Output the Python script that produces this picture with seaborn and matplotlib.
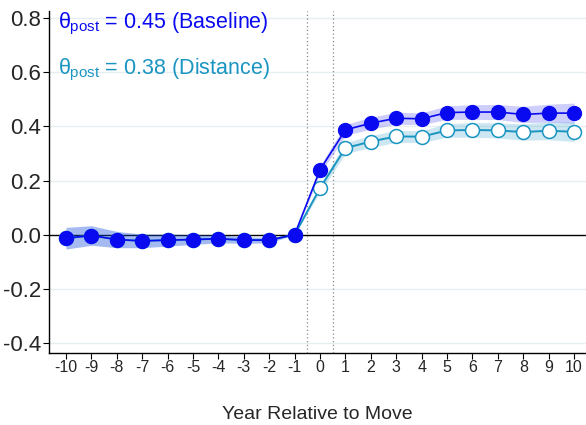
import numpy as np
import pandas as pd
import matplotlib
matplotlib.use("Agg")
import matplotlib.pyplot as plt
import seaborn as sns

years = list(range(-10, 11))
baseline = [-0.013, -0.003, -0.018, -0.023, -0.020, -0.018, -0.015, -0.020, -0.020, 0.000,
            0.240, 0.387, 0.412, 0.430, 0.428, 0.451, 0.453, 0.453, 0.444, 0.449, 0.449]
baseline_ci = [0.040, 0.036, 0.030, 0.025, 0.022, 0.018, 0.015, 0.012, 0.010, 0.000,
               0.015, 0.020, 0.022, 0.022, 0.022, 0.025, 0.027, 0.028, 0.030, 0.033, 0.037]
distance = [-0.013, -0.003, -0.018, -0.023, -0.020, -0.018, -0.015, -0.020, -0.020, 0.000,
            0.172, 0.320, 0.344, 0.363, 0.362, 0.385, 0.387, 0.385, 0.379, 0.384, 0.380]
distance_ci = [0.040, 0.036, 0.030, 0.025, 0.022, 0.018, 0.015, 0.012, 0.010, 0.000,
               0.015, 0.020, 0.022, 0.022, 0.022, 0.025, 0.027, 0.028, 0.030, 0.033, 0.036]
yticks = [-0.4, -0.2, 0.0, 0.2, 0.4, 0.6, 0.8]
label_base = r"$\theta_{\mathrm{post}}$ = 0.45 (Baseline)"
label_dist = r"$\theta_{\mathrm{post}}$ = 0.38 (Distance)"
xlabel = "Year Relative to Move"

sns.set_theme(style="white")
plt.rcParams["font.family"] = ["Liberation Sans", "DejaVu Sans"]
plt.rcParams["mathtext.fontset"] = "custom"
plt.rcParams["mathtext.rm"] = "Liberation Sans"
plt.rcParams["mathtext.it"] = "Liberation Sans"
plt.rcParams["mathtext.bf"] = "Liberation Sans:bold"

BLUE = "#0a0af0"
CYAN = "#1a95c2"

df = pd.DataFrame({"year": years, "baseline": baseline, "distance": distance,
                   "bci": baseline_ci, "dci": distance_ci})

fig = plt.figure(figsize=(5.86, 4.25), dpi=100)
ax = fig.add_axes([0.0836, 0.1694, 1 - 0.0836, 0.974 - 0.1694])

for y in yticks:
    if y != 0:
        ax.axhline(y, color="#e6eef0", lw=1.0, zorder=0)
ax.axhline(0, color="black", lw=1.0, zorder=1)
ax.axvline(-0.5, color="#888888", lw=0.9, ls=(0, (1, 2)), zorder=1)
ax.axvline(0.5, color="#888888", lw=0.9, ls=(0, (1, 2)), zorder=1)

ax.fill_between(df["year"], df["distance"] - df["dci"], df["distance"] + df["dci"],
                color=CYAN, alpha=0.22, lw=0, zorder=2)
ax.fill_between(df["year"], df["baseline"] - df["bci"], df["baseline"] + df["bci"],
                color=BLUE, alpha=0.2, lw=0, zorder=2)

sns.lineplot(data=df, x="year", y="distance", ax=ax, color=CYAN, lw=1.4,
             marker="o", markersize=10, markerfacecolor="white",
             markeredgecolor=CYAN, markeredgewidth=1.1, zorder=3)
sns.lineplot(data=df, x="year", y="baseline", ax=ax, color=BLUE, lw=1.2, alpha=1.0,
             marker="o", markersize=10, markerfacecolor=BLUE,
             markeredgecolor=BLUE, markeredgewidth=1.0, zorder=4)

ax.set_xlim(-10.67, 10.47)
ax.set_ylim(-0.437, 0.826)
ax.set_xticks(years)
ax.set_xticklabels([str(v) for v in years], fontsize=11.5)
ax.set_yticks(yticks)
ax.set_yticklabels([f"{v:.1f}" for v in yticks], fontsize=16)
ax.tick_params(axis="both", direction="out", length=4.5, width=0.8, color="black",
               bottom=True, left=True, pad=1)
ax.tick_params(axis="x", pad=0.5)
ax.set_xlabel(xlabel, fontsize=14, labelpad=22)
ax.set_ylabel("")
for s in ["top", "right"]:
    ax.spines[s].set_visible(False)
ax.spines["left"].set_color("black")
ax.spines["bottom"].set_color("black")
ax.spines["left"].set_linewidth(1.0)
ax.spines["bottom"].set_linewidth(1.0)

ax.text(-10.3, 0.777, label_base, color=BLUE, fontsize=15.5, va="center", ha="left")
ax.text(-10.3, 0.610, label_dist, color=CYAN, fontsize=15.5, va="center", ha="left")

fig.savefig("out.png", dpi=100)
